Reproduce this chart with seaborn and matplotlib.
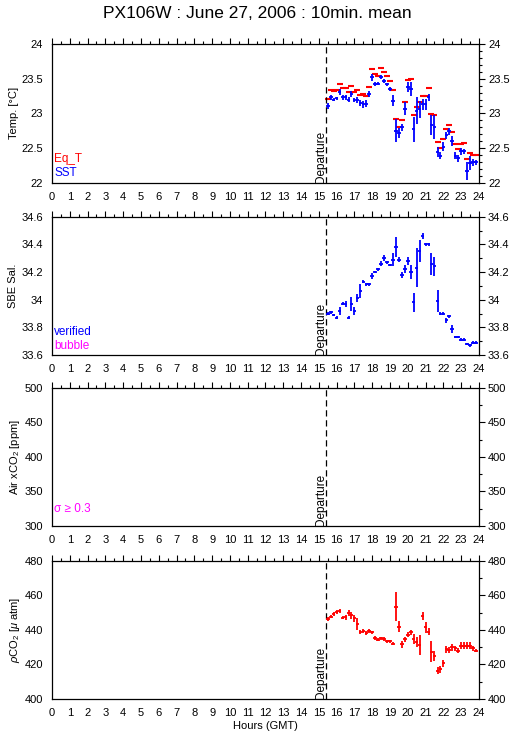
import numpy as np
import pandas as pd
import seaborn as sns
import matplotlib.pyplot as plt
from matplotlib.ticker import MultipleLocator, FuncFormatter

# 10-minute means, hours GMT
hours = [15.50, 15.67, 15.83, 16.00, 16.17, 16.33, 16.50, 16.67, 16.83, 17.00,
         17.17, 17.33, 17.50, 17.67, 17.83, 18.00, 18.17, 18.33, 18.50, 18.67,
         18.83, 19.00, 19.17, 19.33, 19.50, 19.67, 19.83, 20.00, 20.17, 20.33,
         20.50, 20.67, 20.83, 21.00, 21.17, 21.33, 21.50, 21.67, 21.83, 22.00,
         22.17, 22.33, 22.50, 22.67, 22.83, 23.00, 23.17, 23.33, 23.50, 23.67,
         23.83]

sst = [23.11, 23.23, 23.20, 23.22, 23.31, 23.23, 23.23, 23.20, 23.28, 23.19,
       23.19, 23.15, 23.13, 23.14, 23.28, 23.52, 23.42, 23.43, 23.52, 23.47,
       23.42, 23.35, 23.18, 22.75, 22.72, 22.80, 23.07, 23.38, 23.35, 22.77,
       23.04, 23.06, 23.13, 23.13, 23.23, 22.83, 22.80, 22.44, 22.39, 22.52,
       22.68, 22.74, 22.60, 22.39, 22.35, 22.45, 22.45, 22.17, 22.28, 22.29,
       22.29]
sst_err = [0.04, 0.03, 0.02, 0.02, 0.04, 0.03, 0.03, 0.04, 0.05, 0.03,
           0.04, 0.05, 0.05, 0.05, 0.05, 0.05, 0.03, 0.02, 0.03, 0.03,
           0.02, 0.03, 0.08, 0.17, 0.07, 0.05, 0.10, 0.07, 0.10, 0.18,
           0.20, 0.12, 0.08, 0.08, 0.05, 0.15, 0.17, 0.07, 0.05, 0.07,
           0.05, 0.05, 0.07, 0.05, 0.05, 0.05, 0.04, 0.13, 0.10, 0.05,
           0.04]

eq_t = [23.21, 23.34, 23.33, 23.34, 23.43, 23.37, 23.37, 23.31, 23.39, 23.31,
        23.34, 23.26, 23.28, 23.25, 23.38, 23.64, 23.57, 23.54, 23.65, 23.60,
        23.54, 23.47, 23.34, 22.92, 22.81, 22.90, 23.17, 23.48, 23.50, 22.97,
        23.09, 23.16, 23.25, 23.25, 23.36, 22.99, 22.97, 22.58, 22.50, 22.63,
        22.77, 22.83, 22.73, 22.55, 22.49, 22.55, 22.57, 22.34, 22.42, 22.40,
        22.40]

sal = [33.90, 33.91, 33.89, 33.87, 33.92, 33.97, 33.97, 33.87, 33.97, 33.92,
       34.01, 34.06, 34.13, 34.11, 34.11, 34.17, 34.20, 34.22, 34.26, 34.30,
       34.27, 34.25, 34.29, 34.38, 34.29, 34.18, 34.22, 34.28, 34.20, 33.98,
       34.23, 34.35, 34.46, 34.40, 34.40, 34.26, 34.24, 33.99, 33.90, 33.90,
       33.85, 33.88, 33.79, 33.73, 33.73, 33.71, 33.71, 33.68, 33.67, 33.69,
       33.69]
sal_err = [0.01, 0.01, 0.01, 0.01, 0.03, 0.01, 0.02, 0.01, 0.05, 0.03,
           0.03, 0.05, 0.01, 0.01, 0.01, 0.02, 0.01, 0.01, 0.02, 0.02,
           0.01, 0.01, 0.05, 0.07, 0.02, 0.02, 0.03, 0.03, 0.05, 0.07,
           0.14, 0.08, 0.02, 0.01, 0.01, 0.08, 0.07, 0.08, 0.01, 0.01,
           0.02, 0.01, 0.03, 0.01, 0.01, 0.01, 0.01, 0.01, 0.01, 0.01,
           0.01]

pco2 = [446.2, 447.7, 449.1, 450.2, 451.0, 447.0, 447.3, 449.7, 448.5, 446.8,
        443.5, 438.8, 439.4, 438.3, 439.4, 438.6, 435.2, 434.4, 435.0, 434.6,
        433.4, 433.4, 432.1, 453.5, 441.9, 431.7, 434.6, 437.1, 438.6, 434.6,
        433.0, 431.3, 448.1, 441.4, 439.0, 427.4, 424.9, 416.4, 417.2, 420.7,
        428.8, 428.4, 430.0, 429.4, 428.0, 430.7, 430.7, 430.7, 430.7, 429.4,
        428.0]
pco2_err = [1.0, 1.0, 1.0, 1.0, 1.0, 1.0, 1.5, 1.5, 2.0, 2.0,
            3.5, 1.0, 1.0, 1.0, 1.0, 1.0, 1.0, 1.0, 1.0, 1.0,
            1.0, 1.0, 1.0, 8.5, 3.0, 2.0, 1.5, 1.5, 1.5, 3.0,
            3.0, 6.0, 2.5, 3.0, 2.0, 6.0, 3.0, 2.0, 2.0, 2.0,
            2.0, 1.5, 2.0, 1.5, 1.5, 2.0, 2.0, 2.0, 2.0, 1.5,
            1.0]

departure = 15.42
hour_ticks = list(range(0, 25))

df = pd.DataFrame({'hours': hours, 'sst': sst, 'sst_err': sst_err, 'eq_t': eq_t,
                   'sal': sal, 'sal_err': sal_err, 'pco2': pco2, 'pco2_err': pco2_err})

sns.set_style('white')
plt.rcParams['font.family'] = ['Liberation Sans', 'DejaVu Sans']
plt.rcParams['mathtext.fontset'] = 'custom'
plt.rcParams['mathtext.rm'] = 'Liberation Sans'
plt.rcParams['mathtext.it'] = 'Liberation Sans:italic'
for key in ['text.color', 'axes.labelcolor', 'xtick.color', 'ytick.color', 'axes.edgecolor']:
    plt.rcParams[key] = 'black'

BLUE = '#0000ff'
RED = '#ff0000'
MAG = '#ff00ff'

fig = plt.figure(figsize=(5.15, 7.39), dpi=100)
fig.text(0.5, 0.982, 'PX106W : June 27, 2006 : 10min. mean', ha='center', va='center', fontsize=12.5)

panels = [
    dict(bottom=0.753, ylim=(22, 24), major=0.5, minor=0.1, ylabel='Temp. [°C]'),
    dict(bottom=0.5196, ylim=(33.6, 34.6), major=0.2, minor=0.1, ylabel='SBE Sal.'),
    dict(bottom=0.2882, ylim=(300, 500), major=50, minor=25, ylabel='Air xCO$_2$ [ppm]'),
    dict(bottom=0.0541, ylim=(400, 480), major=20, minor=10, ylabel=r'$\rho$CO$_2$ [$\mu$ atm]'),
]

axes = []
for p in panels:
    ax = fig.add_axes([0.101, p['bottom'], 0.829, 0.1872])
    ax.set_xlim(0, 24)
    ax.set_ylim(*p['ylim'])
    ax.set_xticks(hour_ticks)
    ax.xaxis.set_minor_locator(MultipleLocator(0.5))
    ax.yaxis.set_major_locator(MultipleLocator(p['major']))
    ax.yaxis.set_minor_locator(MultipleLocator(p['minor']))
    ax.yaxis.set_major_formatter(FuncFormatter(lambda v, pos: f'{round(v, 3):g}'))
    ax.tick_params(which='both', direction='out', top=True, right=True,
                   labelright=True, labelsize=8, pad=2, color='black', width=0.8)
    ax.tick_params(which='major', length=4.5)
    ax.tick_params(which='minor', length=2.5)
    for s in ax.spines.values():
        s.set_color('black')
        s.set_linewidth(0.9)
    ax.axvline(departure, color='black', lw=0.9, ls=(0, (5, 3)))
    ax.text(departure + 0.05, p['ylim'][0], 'Departure', rotation=90, ha='right', va='bottom',
            fontsize=8.5)
    axes.append(ax)

ax1, ax2, ax3, ax4 = axes

# temperature
ax1.errorbar(df['hours'], df['sst'], yerr=df['sst_err'], xerr=0.1, fmt='none',
             ecolor=BLUE, elinewidth=1.3, capsize=0)
sns.scatterplot(data=df, x='hours', y='eq_t', ax=ax1, marker='_', s=22, color=RED,
                linewidth=1.5, legend=False)
ax1.text(0.005, 0.145, 'Eq_T', color=RED, transform=ax1.transAxes, fontsize=8.5)
ax1.text(0.005, 0.045, 'SST', color=BLUE, transform=ax1.transAxes, fontsize=8.5)

# salinity
ax2.errorbar(df['hours'], df['sal'], yerr=df['sal_err'], xerr=0.1, fmt='none',
             ecolor=BLUE, elinewidth=1.3, capsize=0)
ax2.text(0.005, 0.145, 'verified', color=BLUE, transform=ax2.transAxes, fontsize=8.5)
ax2.text(0.005, 0.045, 'bubble', color=MAG, transform=ax2.transAxes, fontsize=8.5)

# air xCO2 (no data)
ax3.text(0.005, 0.1, 'σ ≥ 0.3', color=MAG, transform=ax3.transAxes, fontsize=8.5)

# pCO2
ax4.errorbar(df['hours'], df['pco2'], yerr=df['pco2_err'], xerr=0.1, fmt='none',
             ecolor=RED, elinewidth=1.3, capsize=0)

for ax, p in zip(axes, panels):
    ax.set_ylabel(p['ylabel'], fontsize=8, labelpad=2)
    ax.set_xlabel('')
ax4.set_xlabel('Hours (GMT)', fontsize=8, labelpad=2)

fig.savefig('out.png', dpi=100)
